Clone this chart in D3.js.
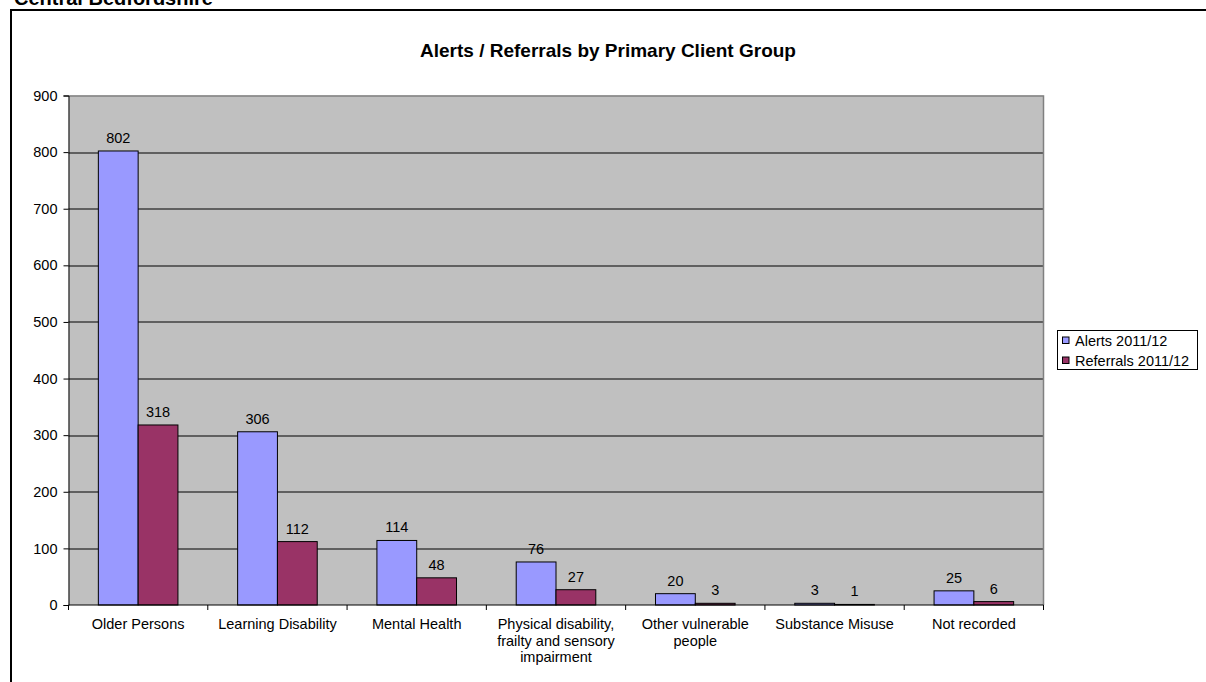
<!DOCTYPE html>
<html>
<head>
<meta charset="utf-8">
<script src="https://cdn.jsdelivr.net/npm/d3@7"></script>
<style>
  body { margin: 0; background: #fff; }
  text { font-family: "Liberation Sans", Arial, sans-serif; fill: #000; }
</style>
</head>
<body>
<svg id="chart" width="1206" height="682"></svg>
<script>
// data
const categories = [
  "Older Persons",
  "Learning Disability",
  "Mental Health",
  "Physical disability, frailty and sensory impairment",
  "Other vulnerable people",
  "Substance Misuse",
  "Not recorded"
];
// wrapped label lines as in the original
const categoryLines = [
  ["Older Persons"],
  ["Learning Disability"],
  ["Mental Health"],
  ["Physical disability,", "frailty and sensory", "impairment"],
  ["Other vulnerable", "people"],
  ["Substance Misuse"],
  ["Not recorded"]
];
const alerts = [802, 306, 114, 76, 20, 3, 25];
const referrals = [318, 112, 48, 27, 3, 1, 6];
const seriesNames = ["Alerts 2011/12", "Referrals 2011/12"];
const yTicks = [0, 100, 200, 300, 400, 500, 600, 700, 800, 900];

const colors = ["#9999FF", "#993366"];
const fontSize = "14.5px";

var margin = { top: 95.5, left: 68.5 },
  width = 1043.5 - margin.left,
  height = 605 - margin.top;

const svg = d3.select("#chart");

// page heading (cut off at the top, like the original)
svg.append("text")
  .attr("x", 14)
  .attr("y", 5)
  .attr("font-size", "20px")
  .attr("font-weight", "bold")
  .text("Central Bedfordshire");

// outer frame
svg.append("path")
  .attr("d", "M11,700 L11,10 L1220,10")
  .attr("fill", "none")
  .attr("stroke", "#000")
  .attr("stroke-width", 2);

// chart title
svg.append("text")
  .attr("x", 608)
  .attr("y", 57)
  .attr("text-anchor", "middle")
  .attr("font-size", "19px")
  .attr("font-weight", "bold")
  .text("Alerts / Referrals by Primary Client Group");

const g = svg.append("g")
  .attr("transform", "translate(" + margin.left + "," + margin.top + ")");

var xScale = d3.scaleBand()
  .domain(categories)
  .range([0, width])
  .paddingInner(0)
  .paddingOuter(0);

// Excel gap width 150%: two bars + 1.5 bar widths of gap per band
const barW = xScale.bandwidth() / 3.5;
const x1 = d3.scaleBand()
  .domain([0, 1])
  .range([barW * 0.75, barW * 2.75]);

var yScale = d3.scaleLinear()
  .domain([0, 900])
  .range([height, 0]);

// plot background
g.append("rect")
  .attr("width", width)
  .attr("height", height)
  .attr("fill", "#C0C0C0");

// gridlines
g.append("g")
  .selectAll("line")
  .data(yTicks.filter(d => d > 0 && d < 900))
  .join("line")
  .attr("x1", 0)
  .attr("x2", width)
  .attr("y1", d => Math.round(yScale(d)) + 0.5)
  .attr("y2", d => Math.round(yScale(d)) + 0.5)
  .attr("stroke", "#000")
  .attr("stroke-width", 1);

// plot border top/right
g.append("path")
  .attr("d", "M0," + 0.5 + " H" + width + " V" + height)
  .attr("fill", "none")
  .attr("stroke", "#808080")
  .attr("stroke-width", 1.5);

// bars
const series = [alerts, referrals];
const groups = g.append("g")
  .selectAll("g")
  .data(categories)
  .join("g")
  .attr("transform", d => "translate(" + xScale(d) + ",0)");

groups.selectAll("rect")
  .data((d, i) => series.map((s, k) => ({ k: k, v: s[i] })))
  .join("rect")
  .attr("x", d => x1(d.k))
  .attr("width", x1.bandwidth())
  .attr("y", d => yScale(d.v))
  .attr("height", d => height - yScale(d.v))
  .attr("fill", d => colors[d.k])
  .attr("stroke", "#000")
  .attr("stroke-width", 1);

// data labels
groups.selectAll("text")
  .data((d, i) => series.map((s, k) => ({ k: k, v: s[i] })))
  .join("text")
  .attr("x", d => x1(d.k) + x1.bandwidth() / 2)
  .attr("y", d => yScale(d.v) - 8)
  .attr("text-anchor", "middle")
  .attr("font-size", fontSize)
  .text(d => d.v);

// y axis
const yAxis = g.append("g")
  .call(d3.axisLeft(yScale).tickValues(yTicks).tickSize(5).tickPadding(6));
yAxis.select(".domain").attr("stroke", "#000");
yAxis.selectAll("text").attr("font-size", fontSize).attr("font-family", null);

// x axis: ticks on band boundaries
const xAxis = g.append("g")
  .attr("transform", "translate(0," + height + ")");
xAxis.append("line")
  .attr("x1", 0).attr("x2", width)
  .attr("stroke", "#000");
xAxis.selectAll("line.tick")
  .data(categories.concat(["end"]))
  .join("line")
  .attr("class", "tick")
  .attr("x1", (d, i) => i < categories.length ? xScale(d) : width)
  .attr("x2", (d, i) => i < categories.length ? xScale(d) : width)
  .attr("y1", 0)
  .attr("y2", 5)
  .attr("stroke", "#000");

xAxis.selectAll("text")
  .data(categories)
  .join("text")
  .attr("text-anchor", "middle")
  .attr("font-size", fontSize)
  .attr("transform", d => "translate(" + (xScale(d) + xScale.bandwidth() / 2) + ",24)")
  .selectAll("tspan")
  .data((d, i) => categoryLines[i])
  .join("tspan")
  .attr("x", 0)
  .attr("dy", (d, i) => i === 0 ? 0 : 16.5)
  .text(d => d);

// legend
const legend = svg.append("g").attr("transform", "translate(1057,330)");
legend.append("rect")
  .attr("x", 0.5).attr("y", 0.5)
  .attr("width", 140).attr("height", 39)
  .attr("fill", "#fff")
  .attr("stroke", "#000");
const items = legend.selectAll("g.item")
  .data(seriesNames)
  .join("g")
  .attr("class", "item")
  .attr("transform", (d, i) => "translate(5," + (10 + i * 20) + ")");
items.append("rect")
  .attr("x", 0.5).attr("y", -3)
  .attr("width", 6.5).attr("height", 6.5)
  .attr("fill", (d, i) => colors[i])
  .attr("stroke", "#000");
items.append("text")
  .attr("x", 13)
  .attr("y", 5.5)
  .attr("font-size", fontSize)
  .text(d => d);
</script>
</body>
</html>
